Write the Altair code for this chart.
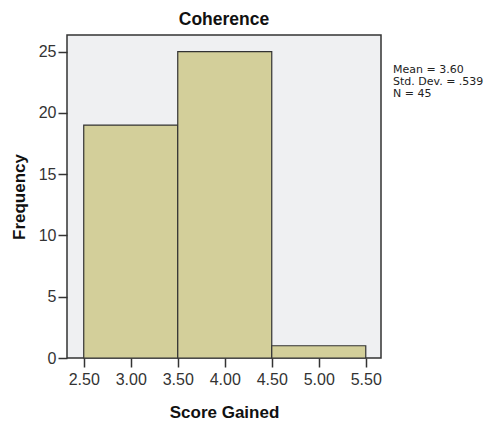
import altair as alt
import pandas as pd

bin_start = [2.5, 3.5, 4.5]
bin_end = [3.5, 4.5, 5.5]
frequency = [19, 25, 1]
x_ticks = [2.5, 3.0, 3.5, 4.0, 4.5, 5.0, 5.5]
y_ticks = [0, 5, 10, 15, 20, 25]
stats_lines = ["Mean = 3.60", "Std. Dev. = .539", "N = 45"]

df = pd.DataFrame({"start": bin_start, "end": bin_end, "freq": frequency})
stats_df = pd.DataFrame({"txt": stats_lines, "row": list(range(len(stats_lines)))})

FONT = "Liberation Sans"

bars = alt.Chart(df).mark_rect(
    fill="#D3CF9A", stroke="#333333", strokeWidth=1.2
).encode(
    x=alt.X("start:Q",
            scale=alt.Scale(domain=[2.322, 5.662], nice=False, zero=False),
            axis=alt.Axis(values=x_ticks, format=".2f", title="Score Gained",
                          grid=False, domain=False, tickSize=9, tickColor="#333333",
                          labelPadding=4, titlePadding=17)),
    x2="end:Q",
    y=alt.Y("freq:Q",
            scale=alt.Scale(domain=[0, 26.35], nice=False),
            axis=alt.Axis(values=y_ticks, title="Frequency", grid=False, domain=False,
                          tickSize=9, tickColor="#333333", labelPadding=2,
                          titlePadding=10)),
    y2=alt.datum(0),
)

stats = alt.Chart(stats_df).mark_text(
    align="left", baseline="middle", fontSize=11,
    font="DejaVu Sans",
    color="#222222"
).encode(
    x=alt.value(326),
    y=alt.Y("row:Q", scale=alt.Scale(domain=[0, 2], range=[35, 59]), axis=None),
    text="txt:N",
)

chart = alt.layer(bars, stats).resolve_scale(y="independent").properties(
    width=314, height=323,
    background="white",
    title=alt.TitleParams("Coherence", fontSize=17.5, fontWeight="bold", font=FONT,
                          color="#111111", offset=7, anchor="middle"),
    padding={"left": 59, "top": 27, "right": 109, "bottom": 63},
    autosize=alt.AutoSizeParams(type="none"),
).configure_view(
    fill="#EFF0F2", stroke="#333333", strokeWidth=1.5
).configure_axis(
    labelFont=FONT, labelFontSize=16, labelColor="#333333",
    titleFont=FONT, titleFontSize=17, titleFontWeight="bold", titleColor="#111111",
    tickWidth=1.5
)

chart.save("out.html", embed_options={"renderer": "svg", "actions": False})
